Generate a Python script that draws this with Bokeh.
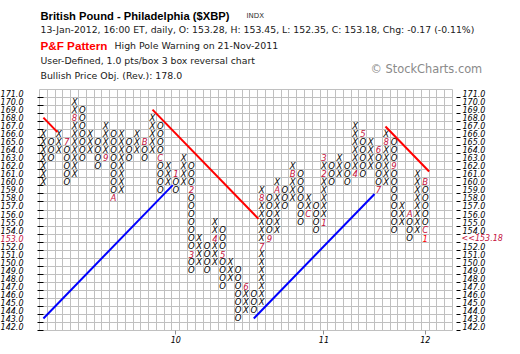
from bokeh.plotting import figure
from bokeh.models import Range1d, FixedTicker, LinearAxis, ColumnDataSource, Grid
from bokeh.embed import file_html
from bokeh.resources import INLINE
from bokeh.core.properties import value

# ---------------- data ----------------
col_type = list("XOXOXOXOXOXOXOXOXOXOXOXOXOXOXOXOXOXOXOXOXOXOXOXOXO")
col_low = [160, 163, 164, 160, 161, 163, 164, 162, 163, 158,
           159, 163, 164, 163, 164, 159, 160, 159, 160, 149,
           150, 149, 150, 147, 148, 143, 144, 144, 145, 153,
           154, 157, 158, 155, 156, 154, 155, 160, 161, 160,
           161, 161, 162, 159, 160, 154, 155, 153, 154, 153]
col_high = [166, 165, 166, 165, 170, 169, 166, 165, 167, 166,
            166, 165, 166, 165, 168, 167, 162, 161, 163, 162,
            153, 152, 155, 154, 150, 149, 147, 146, 159, 158,
            160, 159, 162, 161, 158, 157, 163, 162, 163, 162,
            167, 166, 165, 164, 166, 165, 157, 156, 161, 160]

month_col = [3, 4, 8, 9, 13, 15, 17, 19, 19, 22, 23, 26, 28, 28, 29, 30,
             32, 34, 36, 36, 36, 40, 41, 43, 43, 44, 45, 47, 49, 49, 49]
month_box = [165, 168, 163, 158, 165, 163, 161, 159, 151, 153, 151, 147, 152, 158, 153, 159,
             161, 156, 155, 161, 163, 161, 166, 164, 159, 165, 162, 156, 160, 154, 153]
month_text = ["7", "8", "9", "A", "B", "C", "1", "2", "3", "4", "5", "6", "7", "8", "9", "A",
              "B", "C", "1", "2", "3", "4", "5", "6", "7", "8", "9", "A", "B", "C", "1"]

price_ticks = list(range(142, 172))
date_tick_cols = [17, 36, 49]
date_tick_labels = ["10", "11", "12"]

# trend lines (column, box)
red_x = [[0, 1.8], [14.0, 27.6], [43.9, 49.5]]
red_y = [[168.0, 166.2], [169.0, 155.4], [166.9, 161.3]]
blue_x = [[0, 16.6], [27.0, 42.5]]
blue_y = [[143.0, 159.6], [143.0, 158.5]]

last_close = "153.18"
last_box = 153

header_text = ["British Pound - Philadelphia ($XBP)", "INDX",
               "13-Jan-2012, 16:00 ET, daily, O: 153.28, H: 153.45, L: 152.35, C: 153.18, Chg: -0.17 (-0.11%)",
               "P&F Pattern", "High Pole Warning on 21-Nov-2011",
               "User-Defined, 1.0 pts/box 3 box reversal chart",
               "Bullish Price Obj. (Rev.): 178.0", "\u00a9 StockCharts.com"]

# ---------------- layout ----------------
W, H = 520, 354
GL, GR, GT, GB = 39, 452, 89, 330          # pixel edges of the box grid
NCOLS = 53
YLO, YHI = 141.5, 171.5
sx = (GR - GL) / NCOLS
sy = (GB - GT) / (YHI - YLO)


def xd(px):
    return -0.5 + (px - GL) / sx


def yd(py):
    return YHI - (py - GT) / sy


CRIMSON = "#C4103C"
FONT = "DejaVu Sans"
GRID_COLOR = "#c0c0c0"

p = figure(width=W, height=H, x_range=Range1d(xd(0), xd(W)), y_range=Range1d(yd(H), yd(0)),
           x_axis_type=None, y_axis_type=None, toolbar_location=None,
           output_backend="svg", min_border=0)
for g in p.grid:
    g.visible = False
p.outline_line_color = None

# box grid
vx = [i - 0.5 for i in range(NCOLS + 1)]
hy = [v + 0.5 for v in range(141, 172)]
if "cross_bounds" in Grid.properties():
    p.add_layout(Grid(dimension=0, ticker=FixedTicker(ticks=vx), bounds=(-0.5, NCOLS - 0.5),
                      cross_bounds=(YLO, YHI), grid_line_color=GRID_COLOR), "center")
    p.add_layout(Grid(dimension=1, ticker=FixedTicker(ticks=hy), bounds=(YLO, YHI),
                      cross_bounds=(-0.5, NCOLS - 0.5), grid_line_color=GRID_COLOR), "center")
else:
    cx = [i for i in range(NCOLS) for _ in range(30)]
    cy = [v for _ in range(NCOLS) for v in range(142, 172)]
    p.rect(x=cx, y=cy, width=1, height=1, fill_color=None, line_color=GRID_COLOR,
           line_width=1, level="underlay")

# X / O boxes and month labels
xs, ys, ts, cs = [], [], [], []
labels = {(c, b): t for c, b, t in zip(month_col, month_box, month_text)}
for i, (t, lo, hi) in enumerate(zip(col_type, col_low, col_high)):
    for v in range(lo, hi + 1):
        xs.append(i)
        ys.append(v)
        if (i, v) in labels:
            ts.append(labels[(i, v)])
            cs.append("#FF0000" if (i == len(col_type) - 1 and v == last_box) else CRIMSON)
        else:
            ts.append(t)
            cs.append("black")
src = ColumnDataSource(dict(x=xs, y=ys, t=ts, c=cs))
p.text(x="x", y="y", text="t", text_color="c", source=src, text_align="center",
       text_baseline="middle", text_font=value(FONT), text_font_style="italic",
       text_font_size="8.5px")

p.multi_line(xs=red_x, ys=red_y, line_color="#FF0000", line_width=2)
p.multi_line(xs=blue_x, ys=blue_y, line_color="#0000FF", line_width=2)


# axes (fixed at the grid edges)
def add_axis(side, loc, ticks, overrides, tick_out=0, tick_in=0, tick_color=None,
             standoff=0, color="black"):
    ax = LinearAxis(fixed_location=loc, ticker=FixedTicker(ticks=ticks),
                    major_label_overrides=overrides,
                    major_tick_out=tick_out, major_tick_in=tick_in,
                    major_tick_line_color=tick_color, major_label_standoff=standoff,
                    major_label_text_color=color, major_label_text_font=FONT,
                    major_label_text_font_style="italic", major_label_text_font_size="8px",
                    axis_line_color=None, minor_tick_line_color=None)
    p.add_layout(ax, side)


bounds = [v - 0.5 for v in price_ticks]
black_labels = {v: ("" if v == last_box else f"{v}.0") for v in price_ticks}

# left
add_axis("left", -0.5, bounds, {b: "" for b in bounds}, tick_out=2, tick_in=4, tick_color="black")
add_axis("left", -0.5, price_ticks, black_labels, standoff=16)
add_axis("left", -0.5, [last_box], {last_box: f"{last_box}.0"}, standoff=16, color=CRIMSON)
# right
add_axis("right", xd(GR + 3.5), bounds, {b: "" for b in bounds}, tick_out=4, tick_color="black")
add_axis("right", NCOLS - 0.5, price_ticks, black_labels, standoff=10)
add_axis("right", NCOLS - 0.5, [last_box], {last_box: "<<" + last_close}, standoff=9, color=CRIMSON)
# bottom
add_axis("below", YLO, date_tick_cols,
         {c: l for c, l in zip(date_tick_cols, date_tick_labels)},
         tick_out=4, tick_color="#909090", standoff=1)

# header
hd_x = [40, 246, 40, 40, 114, 40, 40, 370]
hd_y = [15, 15, 29, 45, 45, 60, 75, 68]
hd_font = ["Liberation Sans", FONT, FONT, "Liberation Sans", FONT, FONT, FONT, FONT]
hd_size = ["11.2px", "7px", "9.3px", "11.7px", "9.4px", "9.3px", "9.4px", "11.4px"]
hd_style = ["bold", "normal", "normal", "bold", "normal", "normal", "normal", "normal"]
hd_color = ["black", "#333333", "#202020", "#FF0000", "#202020", "#202020", "#202020", "#8a8a8a"]
for x, y, t, f, s, st, c in zip(hd_x, hd_y, header_text, hd_font, hd_size, hd_style, hd_color):
    p.text(x=[xd(x)], y=[yd(y)], text=[t], text_font=value(f), text_font_size=s,
           text_font_style=st, text_color=c, text_align="left", text_baseline="alphabetic")

open("out.html", "w").write(file_html(p, INLINE))
